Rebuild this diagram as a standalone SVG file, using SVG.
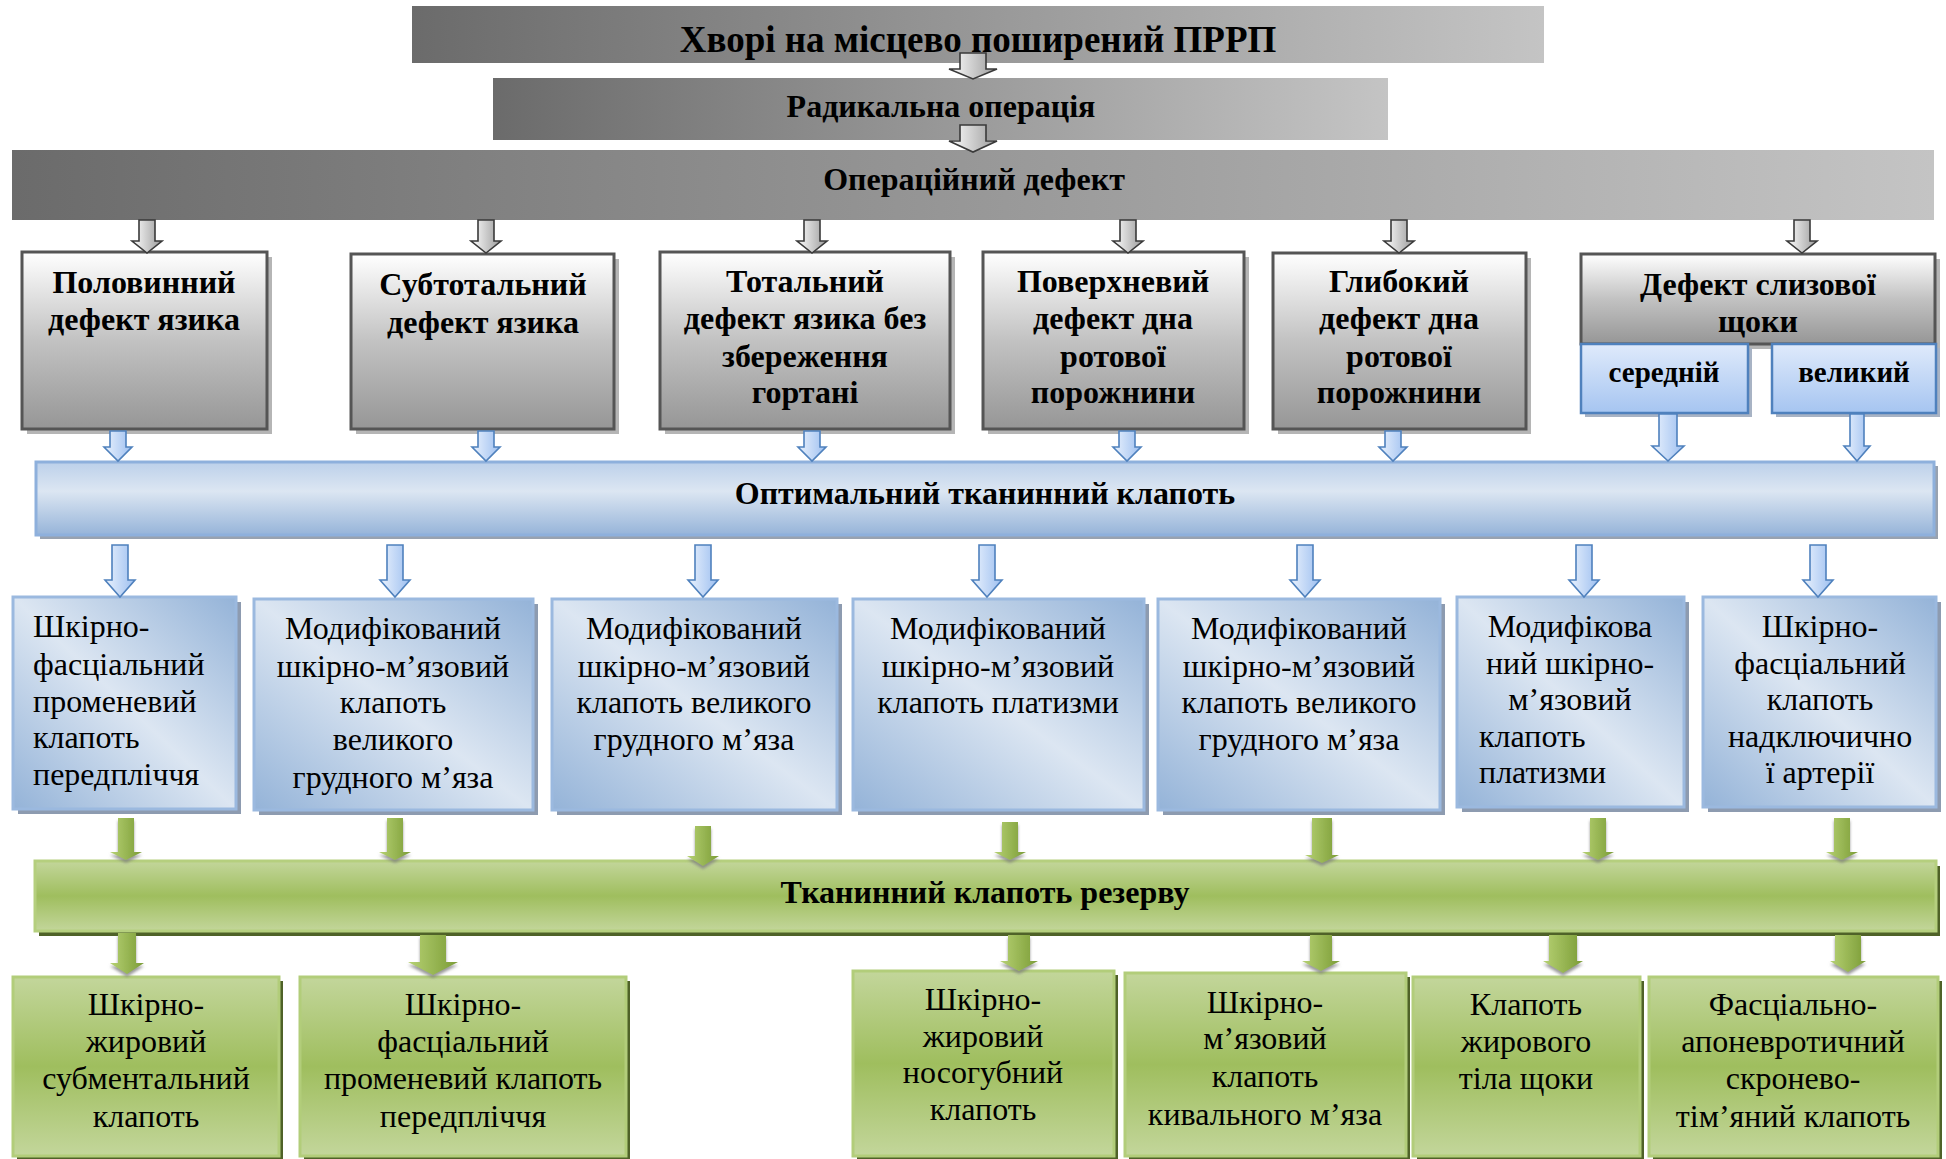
<svg xmlns="http://www.w3.org/2000/svg" width="1946" height="1159" viewBox="0 0 1946 1159">
<style>
.b{font-family:"Liberation Serif","Times New Roman",serif;font-weight:bold;fill:#000;text-anchor:middle}
.r{font-family:"Liberation Serif","Times New Roman",serif;font-size:32px;fill:#000;text-anchor:middle}
.l{text-anchor:start}
.gbox{fill:url(#gGray);stroke:#555;stroke-width:3}
.gsh{fill:#b5b5b5}
.sub{fill:url(#gSub);stroke:#4f81bd;stroke-width:2.5}
.bbox{fill:url(#gBlue);stroke:#9bb9df;stroke-width:3}
.bsh{fill:#8d9bb0}
.grbox{fill:url(#gGreen);stroke:#b2cd7a;stroke-width:3}
.grsh{fill:#4f6228}
.ga{fill:url(#gArG);stroke:#3a3a3a;stroke-width:1.6}
.ba{fill:url(#gArB);stroke:#4f81bd;stroke-width:1.6}
.gra{fill:url(#gArGr);filter:url(#sh)}
</style>
<defs>
<linearGradient id="gHdr" x1="0" y1="0" x2="1" y2="0"><stop offset="0" stop-color="#6b6b6b"/><stop offset="1" stop-color="#c4c4c4"/></linearGradient>
<linearGradient id="gGray" x1="0" y1="0" x2="0" y2="1"><stop offset="0" stop-color="#ffffff"/><stop offset="0.5" stop-color="#c2c2c2"/><stop offset="1" stop-color="#969696"/></linearGradient>
<linearGradient id="gSub" x1="0" y1="0" x2="0" y2="1"><stop offset="0" stop-color="#dfeafb"/><stop offset="1" stop-color="#a6c5f1"/></linearGradient>
<linearGradient id="gBlue" x1="1" y1="0" x2="0" y2="1"><stop offset="0" stop-color="#94b3d8"/><stop offset="0.5" stop-color="#dce6f2"/><stop offset="1" stop-color="#94b3d8"/></linearGradient>
<linearGradient id="gBar" x1="0" y1="0" x2="0" y2="1"><stop offset="0" stop-color="#bcd0ea"/><stop offset="0.4" stop-color="#dce6f2"/><stop offset="1" stop-color="#96b4d9"/></linearGradient>
<linearGradient id="gGreen" x1="0" y1="0" x2="0" y2="1"><stop offset="0" stop-color="#c3d69b"/><stop offset="0.5" stop-color="#9fbe5e"/><stop offset="1" stop-color="#c3d69b"/></linearGradient>
<linearGradient id="gArG" x1="0" y1="0" x2="1" y2="0"><stop offset="0" stop-color="#ffffff"/><stop offset="1" stop-color="#9a9a9a"/></linearGradient>
<linearGradient id="gArB" x1="0" y1="0" x2="1" y2="0"><stop offset="0" stop-color="#eaf2fd"/><stop offset="1" stop-color="#9dbff0"/></linearGradient>
<linearGradient id="gArGr" x1="0" y1="0" x2="1" y2="0"><stop offset="0" stop-color="#b6d173"/><stop offset="1" stop-color="#7b9c36"/></linearGradient>
<filter id="sh" x="-50%" y="-50%" width="200%" height="200%"><feDropShadow dx="0" dy="3" stdDeviation="1.5" flood-color="#808080" flood-opacity="0.8"/></filter>
</defs>

<g id="n-patients"><rect x="412" y="6" width="1132" height="57" fill="url(#gHdr)"/><text class="b" x="978" y="52" font-size="37">Хворі на місцево поширений ПРРП</text></g>
<g id="n-radical"><rect x="493" y="78" width="895" height="62" fill="url(#gHdr)"/><text class="b" x="941" y="117" font-size="32">Радикальна операція</text></g>
<g id="n-defect"><rect x="12" y="150" width="1922" height="70" fill="url(#gHdr)"/><text class="b" x="974" y="190" font-size="32">Операційний дефект</text></g>

<g id="n-half"><rect class="gsh" x="27" y="257" width="245" height="177"/><rect class="gbox" x="22" y="252" width="245" height="177"/><text class="b" font-size="32"><tspan x="144" y="293">Половинний</tspan><tspan x="144" y="330">дефект язика</tspan></text></g>
<g id="n-subtotal"><rect class="gsh" x="356" y="259" width="263" height="175"/><rect class="gbox" x="351" y="254" width="263" height="175"/><text class="b" font-size="32"><tspan x="483" y="295">Субтотальний</tspan><tspan x="483" y="333">дефект язика</tspan></text></g>
<g id="n-total"><rect class="gsh" x="665" y="257" width="290" height="177"/><rect class="gbox" x="660" y="252" width="290" height="177"/><text class="b" font-size="32"><tspan x="805" y="292">Тотальний</tspan><tspan x="805" y="329">дефект язика без</tspan><tspan x="805" y="367">збереження</tspan><tspan x="805" y="403">гортані</tspan></text></g>
<g id="n-surface"><rect class="gsh" x="988" y="257" width="261" height="177"/><rect class="gbox" x="983" y="252" width="261" height="177"/><text class="b" font-size="32"><tspan x="1113" y="292">Поверхневий</tspan><tspan x="1113" y="329">дефект дна</tspan><tspan x="1113" y="367">ротової</tspan><tspan x="1113" y="403">порожнини</tspan></text></g>
<g id="n-deep"><rect class="gsh" x="1278" y="258" width="253" height="176"/><rect class="gbox" x="1273" y="253" width="253" height="176"/><text class="b" font-size="32"><tspan x="1399" y="292">Глибокий</tspan><tspan x="1399" y="329">дефект дна</tspan><tspan x="1399" y="367">ротової</tspan><tspan x="1399" y="403">порожнини</tspan></text></g>
<g id="n-cheek"><rect class="gsh" x="1586" y="259" width="354" height="90"/><rect class="gbox" x="1581" y="254" width="354" height="90"/><text class="b" font-size="32"><tspan x="1758" y="295">Дефект слизової</tspan><tspan x="1758" y="332">щоки</tspan></text></g>
<g id="n-medium"><rect fill="#a8b3c4" x="1585" y="348" width="167" height="69"/><rect class="sub" x="1581" y="344" width="167" height="69"/><text class="b" x="1664" y="382" font-size="29">середній</text></g>
<g id="n-large"><rect fill="#a8b3c4" x="1776" y="348" width="164" height="69"/><rect class="sub" x="1772" y="344" width="164" height="69"/><text class="b" x="1854" y="382" font-size="29">великий</text></g>

<g id="n-optimal"><rect fill="#98a2b0" x="40" y="466" width="1898" height="73"/><rect fill="url(#gBar)" stroke="#8eb0dc" stroke-width="3" x="36" y="462" width="1898" height="73"/><text class="b" x="985" y="504" font-size="32">Оптимальний тканинний клапоть</text></g>

<g id="n-o1"><rect class="bsh" x="18" y="602" width="223" height="212"/><rect class="bbox" x="13" y="597" width="223" height="212"/><text class="r l"><tspan x="33" y="637">Шкірно-</tspan><tspan x="33" y="675">фасціальний</tspan><tspan x="33" y="712">променевий</tspan><tspan x="33" y="748">клапоть</tspan><tspan x="33" y="785">передпліччя</tspan></text></g>
<g id="n-o2"><rect class="bsh" x="259" y="604" width="279" height="211"/><rect class="bbox" x="254" y="599" width="279" height="211"/><text class="r"><tspan x="393" y="639">Модифікований</tspan><tspan x="393" y="677">шкірно-м’язовий</tspan><tspan x="393" y="713">клапоть</tspan><tspan x="393" y="750">великого</tspan><tspan x="393" y="788">грудного м’яза</tspan></text></g>
<g id="n-o3"><rect class="bsh" x="557" y="604" width="285" height="211"/><rect class="bbox" x="552" y="599" width="285" height="211"/><text class="r"><tspan x="694" y="639">Модифікований</tspan><tspan x="694" y="677">шкірно-м’язовий</tspan><tspan x="694" y="713">клапоть великого</tspan><tspan x="694" y="750">грудного м’яза</tspan></text></g>
<g id="n-o4"><rect class="bsh" x="858" y="604" width="291" height="211"/><rect class="bbox" x="853" y="599" width="291" height="211"/><text class="r"><tspan x="998" y="639">Модифікований</tspan><tspan x="998" y="677">шкірно-м’язовий</tspan><tspan x="998" y="713">клапоть платизми</tspan></text></g>
<g id="n-o5"><rect class="bsh" x="1163" y="604" width="282" height="211"/><rect class="bbox" x="1158" y="599" width="282" height="211"/><text class="r"><tspan x="1299" y="639">Модифікований</tspan><tspan x="1299" y="677">шкірно-м’язовий</tspan><tspan x="1299" y="713">клапоть великого</tspan><tspan x="1299" y="750">грудного м’яза</tspan></text></g>
<g id="n-o6"><rect class="bsh" x="1462" y="602" width="227" height="210"/><rect class="bbox" x="1457" y="597" width="227" height="210"/><text class="r"><tspan x="1570" y="637">Модифікова</tspan><tspan x="1570" y="674">ний шкірно-</tspan><tspan x="1570" y="710">м’язовий</tspan><tspan class="l" x="1479" y="747">клапоть</tspan><tspan class="l" x="1479" y="783">платизми</tspan></text></g>
<g id="n-o7"><rect class="bsh" x="1708" y="602" width="233" height="210"/><rect class="bbox" x="1703" y="597" width="233" height="210"/><text class="r"><tspan x="1820" y="637">Шкірно-</tspan><tspan x="1820" y="674">фасціальний</tspan><tspan x="1820" y="710">клапоть</tspan><tspan x="1820" y="747">надключично</tspan><tspan x="1820" y="783">ї артерії</tspan></text></g>

<g id="n-reserve"><rect class="grsh" x="39" y="866" width="1901" height="70"/><rect fill="url(#gGreen)" stroke="#b5cf7e" stroke-width="3" x="35" y="861" width="1901" height="70"/><text class="b" x="985" y="903" font-size="32">Тканинний клапоть резерву</text></g>

<g id="n-r1"><rect class="grsh" x="17" y="981" width="266" height="179"/><rect class="grbox" x="13" y="977" width="266" height="179"/><text class="r"><tspan x="146" y="1015">Шкірно-</tspan><tspan x="146" y="1052">жировий</tspan><tspan x="146" y="1089">субментальний</tspan><tspan x="146" y="1127">клапоть</tspan></text></g>
<g id="n-r2"><rect class="grsh" x="304" y="981" width="326" height="179"/><rect class="grbox" x="300" y="977" width="326" height="179"/><text class="r"><tspan x="463" y="1015">Шкірно-</tspan><tspan x="463" y="1052">фасціальний</tspan><tspan x="463" y="1089">променевий клапоть</tspan><tspan x="463" y="1127">передпліччя</tspan></text></g>
<g id="n-r3"><rect class="grsh" x="857" y="975" width="261" height="185"/><rect class="grbox" x="853" y="971" width="261" height="185"/><text class="r"><tspan x="983" y="1010">Шкірно-</tspan><tspan x="983" y="1047">жировий</tspan><tspan x="983" y="1083">носогубний</tspan><tspan x="983" y="1120">клапоть</tspan></text></g>
<g id="n-r4"><rect class="grsh" x="1129" y="977" width="281" height="183"/><rect class="grbox" x="1125" y="973" width="281" height="183"/><text class="r"><tspan x="1265" y="1013">Шкірно-</tspan><tspan x="1265" y="1049">м’язовий</tspan><tspan x="1265" y="1087">клапоть</tspan><tspan x="1265" y="1125">кивального м’яза</tspan></text></g>
<g id="n-r5"><rect class="grsh" x="1417" y="981" width="227" height="179"/><rect class="grbox" x="1413" y="977" width="227" height="179"/><text class="r"><tspan x="1526" y="1015">Клапоть</tspan><tspan x="1526" y="1052">жирового</tspan><tspan x="1526" y="1089">тіла щоки</tspan></text></g>
<g id="n-r6"><rect class="grsh" x="1653" y="981" width="289" height="179"/><rect class="grbox" x="1649" y="977" width="289" height="179"/><text class="r"><tspan x="1793" y="1015">Фасціально-</tspan><tspan x="1793" y="1052">апоневротичний</tspan><tspan x="1793" y="1089">скронево-</tspan><tspan x="1793" y="1127">тім’яний клапоть</tspan></text></g>

<g id="connectors">
<polygon class="ga" points="960,53 986,53 986,69 997,69 973,79 949,69 960,69"/>
<polygon class="ga" points="960,125 986,125 986,141 997,141 973,152 949,141 960,141"/>
<polygon class="ga" points="139,220 155,220 155,241 162,241 147,253 132,241 139,241"/>
<polygon class="ga" points="478,220 494,220 494,241 501,241 486,253 471,241 478,241"/>
<polygon class="ga" points="804,220 820,220 820,241 827,241 812,253 797,241 804,241"/>
<polygon class="ga" points="1120,220 1136,220 1136,241 1143,241 1128,253 1113,241 1120,241"/>
<polygon class="ga" points="1391,220 1407,220 1407,241 1414,241 1399,253 1384,241 1391,241"/>
<polygon class="ga" points="1794,220 1810,220 1810,241 1817,241 1802,253 1787,241 1794,241"/>

<polygon class="ba" points="110,431 126,431 126,447 132,447 118,461 104,447 110,447"/>
<polygon class="ba" points="478,431 494,431 494,447 500,447 486,461 472,447 478,447"/>
<polygon class="ba" points="804,431 820,431 820,447 826,447 812,461 798,447 804,447"/>
<polygon class="ba" points="1119,431 1135,431 1135,447 1141,447 1127,461 1113,447 1119,447"/>
<polygon class="ba" points="1385,431 1401,431 1401,447 1407,447 1393,461 1379,447 1385,447"/>
<polygon class="ba" points="1659,414 1677,414 1677,446 1684,446 1668,461 1652,446 1659,446"/>
<polygon class="ba" points="1850,414 1864,414 1864,446 1870,446 1857,461 1844,446 1850,446"/>

<polygon class="ba" points="112,545 128,545 128,580 135,580 120,597 105,580 112,580"/>
<polygon class="ba" points="387,545 403,545 403,580 410,580 395,597 380,580 387,580"/>
<polygon class="ba" points="695,545 711,545 711,580 718,580 703,597 688,580 695,580"/>
<polygon class="ba" points="979,545 995,545 995,580 1002,580 987,597 972,580 979,580"/>
<polygon class="ba" points="1297,545 1313,545 1313,580 1320,580 1305,597 1290,580 1297,580"/>
<polygon class="ba" points="1576,545 1592,545 1592,580 1599,580 1584,597 1569,580 1576,580"/>
<polygon class="ba" points="1810,545 1826,545 1826,580 1833,580 1818,597 1803,580 1810,580"/>

<polygon class="gra" points="118,818 134,818 134,852 142,852 126,860 110,852 118,852"/>
<polygon class="gra" points="387,818 403,818 403,852 411,852 395,860 379,852 387,852"/>
<polygon class="gra" points="695,826 711,826 711,856 719,856 703,866 687,856 695,856"/>
<polygon class="gra" points="1002,822 1018,822 1018,852 1026,852 1010,860 994,852 1002,852"/>
<polygon class="gra" points="1312,818 1332,818 1332,855 1339,855 1322,863 1305,855 1312,855"/>
<polygon class="gra" points="1590,818 1606,818 1606,852 1614,852 1598,860 1582,852 1590,852"/>
<polygon class="gra" points="1834,818 1850,818 1850,852 1858,852 1842,860 1826,852 1834,852"/>

<polygon class="gra" points="118,933 136,933 136,963 144,963 127,974 110,963 118,963"/>
<polygon class="gra" points="420,935 446,935 446,962 458,962 433,975 408,962 420,962"/>
<polygon class="gra" points="1008,935 1030,935 1030,961 1038,961 1019,971 1000,961 1008,961"/>
<polygon class="gra" points="1310,935 1332,935 1332,961 1340,961 1321,971 1302,961 1310,961"/>
<polygon class="gra" points="1549,935 1577,935 1577,961 1583,961 1563,973 1543,961 1549,961"/>
<polygon class="gra" points="1835,935 1861,935 1861,961 1866,961 1848,972 1830,961 1835,961"/>
</g>
</svg>
